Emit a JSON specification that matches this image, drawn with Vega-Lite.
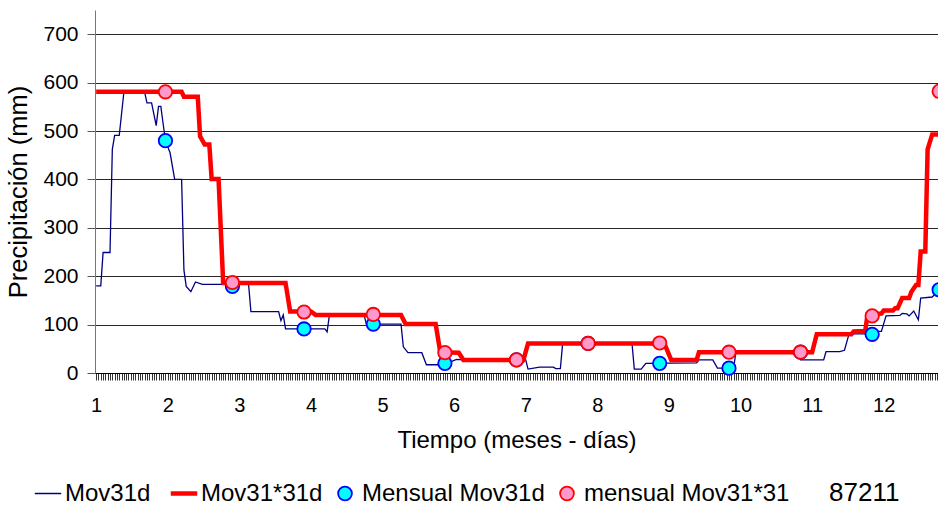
{
  "$schema": "https://vega.github.io/schema/vega-lite/v6.json",
  "width": 843,
  "height": 363,
  "autosize": {"type": "none"},
  "padding": {"left": 95, "top": 10, "right": 0, "bottom": 133},
  "background": "white",
  "config": {
    "font": "Liberation Sans",
    "view": {"stroke": null},
    "axis": {"labelFont": "Liberation Sans", "titleFont": "Liberation Sans", "labelColor": "#000", "titleColor": "#000", "titleFontWeight": "normal"}
  },
  "datasets": {
    "mov31d": [
      {"dia": 1, "mm": 180}, {"dia": 3, "mm": 180}, {"dia": 4, "mm": 249}, {"dia": 7, "mm": 249}, {"dia": 8, "mm": 462}, {"dia": 9, "mm": 491}, {"dia": 11, "mm": 491}, {"dia": 13, "mm": 580}, {"dia": 22, "mm": 580}, {"dia": 23, "mm": 558}, {"dia": 25, "mm": 558}, {"dia": 27, "mm": 511}, {"dia": 28, "mm": 551}, {"dia": 29, "mm": 551}, {"dia": 30, "mm": 515}, {"dia": 31, "mm": 480}, {"dia": 33, "mm": 455}, {"dia": 35, "mm": 400}, {"dia": 38, "mm": 400}, {"dia": 39, "mm": 213}, {"dia": 40, "mm": 179}, {"dia": 42, "mm": 168}, {"dia": 44, "mm": 188}, {"dia": 47, "mm": 183}, {"dia": 67, "mm": 183}, {"dia": 68, "mm": 127}, {"dia": 80, "mm": 127}, {"dia": 81, "mm": 108}, {"dia": 82, "mm": 120}, {"dia": 83, "mm": 91}, {"dia": 100, "mm": 91}, {"dia": 101, "mm": 85}, {"dia": 102, "mm": 120}, {"dia": 117, "mm": 120}, {"dia": 118, "mm": 101}, {"dia": 133, "mm": 101}, {"dia": 134, "mm": 54}, {"dia": 136, "mm": 42}, {"dia": 142, "mm": 42}, {"dia": 144, "mm": 17}, {"dia": 149, "mm": 17}, {"dia": 151, "mm": 20}, {"dia": 153, "mm": 20}, {"dia": 157, "mm": 28}, {"dia": 160, "mm": 27}, {"dia": 187, "mm": 27}, {"dia": 188, "mm": 8}, {"dia": 193, "mm": 12}, {"dia": 199, "mm": 12}, {"dia": 200, "mm": 9}, {"dia": 202, "mm": 9}, {"dia": 203, "mm": 62}, {"dia": 233, "mm": 62}, {"dia": 234, "mm": 8}, {"dia": 237, "mm": 8}, {"dia": 239, "mm": 20}, {"dia": 261, "mm": 21}, {"dia": 262, "mm": 27}, {"dia": 268, "mm": 27}, {"dia": 270, "mm": 10}, {"dia": 277, "mm": 10}, {"dia": 278, "mm": 43}, {"dia": 305, "mm": 43}, {"dia": 306, "mm": 27}, {"dia": 316, "mm": 27}, {"dia": 317, "mm": 44}, {"dia": 323, "mm": 44}, {"dia": 325, "mm": 47}, {"dia": 327, "mm": 81}, {"dia": 336, "mm": 81}, {"dia": 337, "mm": 86}, {"dia": 341, "mm": 86}, {"dia": 343, "mm": 118}, {"dia": 349, "mm": 119}, {"dia": 350, "mm": 123}, {"dia": 352, "mm": 122}, {"dia": 353, "mm": 118}, {"dia": 355, "mm": 128}, {"dia": 357, "mm": 110}, {"dia": 358, "mm": 155}, {"dia": 363, "mm": 157}, {"dia": 366, "mm": 172}
    ],
    "mov3131d": [
      {"dia": 1, "mm": 581}, {"dia": 38, "mm": 581}, {"dia": 39, "mm": 571}, {"dia": 45, "mm": 571}, {"dia": 46, "mm": 489}, {"dia": 48, "mm": 472}, {"dia": 50, "mm": 472}, {"dia": 51, "mm": 401}, {"dia": 54, "mm": 401}, {"dia": 56, "mm": 186}, {"dia": 83, "mm": 186}, {"dia": 85, "mm": 127}, {"dia": 94, "mm": 127}, {"dia": 96, "mm": 120}, {"dia": 133, "mm": 120}, {"dia": 135, "mm": 101}, {"dia": 148, "mm": 101}, {"dia": 150, "mm": 43}, {"dia": 158, "mm": 42}, {"dia": 160, "mm": 27}, {"dia": 186, "mm": 27}, {"dia": 188, "mm": 61}, {"dia": 247, "mm": 61}, {"dia": 250, "mm": 27}, {"dia": 261, "mm": 27}, {"dia": 262, "mm": 43}, {"dia": 311, "mm": 43}, {"dia": 313, "mm": 80}, {"dia": 328, "mm": 80}, {"dia": 329, "mm": 86}, {"dia": 334, "mm": 87}, {"dia": 335, "mm": 121}, {"dia": 341, "mm": 123}, {"dia": 342, "mm": 129}, {"dia": 346, "mm": 129}, {"dia": 347, "mm": 134}, {"dia": 348, "mm": 134}, {"dia": 350, "mm": 155}, {"dia": 353, "mm": 155}, {"dia": 354, "mm": 168}, {"dia": 356, "mm": 182}, {"dia": 357, "mm": 182}, {"dia": 358, "mm": 251}, {"dia": 360, "mm": 251}, {"dia": 361, "mm": 462}, {"dia": 363, "mm": 493}, {"dia": 366, "mm": 493}
    ],
    "mensual": [
      {"dia": 31, "mov31d": 480, "mov3131": 581},
      {"dia": 60, "mov31d": 179, "mov3131": 187},
      {"dia": 91, "mov31d": 91, "mov3131": 126},
      {"dia": 121, "mov31d": 101, "mov3131": 121},
      {"dia": 152, "mov31d": 20, "mov3131": 42},
      {"dia": 183, "mov31d": 27, "mov3131": 27},
      {"dia": 214, "mov31d": 61, "mov3131": 61},
      {"dia": 245, "mov31d": 20, "mov3131": 62},
      {"dia": 275, "mov31d": 10, "mov3131": 43},
      {"dia": 306, "mov31d": 43, "mov3131": 43},
      {"dia": 337, "mov31d": 80, "mov3131": 118},
      {"dia": 366, "mov31d": 172, "mov3131": 582}
    ]
  },
  "layer": [
    {
      "data": {"name": "mov31d"},
      "mark": {"type": "line", "strokeWidth": 1.3, "clip": true},
      "encoding": {
        "x": {
          "field": "dia", "type": "quantitative",
          "scale": {"domain": [0.5, 365.5], "nice": false, "zero": false},
          "axis": {
            "title": "Tiempo (meses - días)",
            "tickCount": 365,
            "labelExpr": "(datum.value - 1) % 31 === 0 ? '' + ((datum.value - 1) / 31 + 1) : ''",
            "labelOverlap": false, "labelFlush": false, "labelBound": false,
            "grid": false, "tickSize": 7, "tickColor": "#333", "domainColor": "#000",
            "labelFontSize": 20, "labelPadding": 15, "labelAngle": 0,
            "titleFontSize": 24, "titlePadding": 13
          }
        },
        "y": {
          "field": "mm", "type": "quantitative",
          "scale": {"domain": [0, 750], "nice": false},
          "axis": {
            "title": "Precipitación (mm)",
            "values": [0, 100, 200, 300, 400, 500, 600, 700],
            "grid": true, "gridColor": "#000", "gridWidth": 1, "gridOpacity": 0.85,
            "tickSize": 8, "tickColor": "#555", "domainColor": "#777",
            "labelFontSize": 21, "labelPadding": 9,
            "titleFontSize": 25.5, "titlePadding": 11
          }
        },
        "color": {
          "datum": "Mov31d", "type": "nominal",
          "scale": {
            "domain": ["Mov31d", "Mov31*31d", "Mensual Mov31d", "mensual Mov31*31", "87211"],
            "range": ["#000080", "#FF0000", "#0000FF", "#FF0000", "#FFFFFF"]
          },
          "legend": {
            "orient": "none", "legendX": -59, "legendY": 471,
            "direction": "horizontal", "columns": 5, "title": null,
            "labelFontSize": 24, "labelFont": "Liberation Sans", "labelColor": "#000", "labelLimit": 0,
            "symbolSize": 700, "labelOffset": 5, "columnPadding": 10,
            "symbolStrokeWidth": 1.5,
            "encode": {
              "symbols": {
                "update": {
                  "shape": {"signal": "datum.value === 'Mov31d' || datum.value === 'Mov31*31d' ? 'stroke' : 'circle'"},
                  "strokeWidth": {"signal": "datum.value === 'Mov31d' ? 1.5 : datum.value === 'Mov31*31d' ? 4.5 : 1.8"},
                  "stroke": {"signal": "datum.value === 'Mov31d' ? '#000080' : datum.value === 'Mov31*31d' ? '#FF0000' : datum.value === 'Mensual Mov31d' ? '#0000FF' : '#FF0000'"},
                  "strokeOpacity": {"value": 1},
                  "fill": {"signal": "datum.value === 'Mensual Mov31d' ? '#00FFFF' : datum.value === 'mensual Mov31*31' ? '#FF99CC' : 'transparent'"},
                  "fillOpacity": {"value": 1},
                  "size": {"signal": "datum.value === 'Mov31d' || datum.value === 'Mov31*31d' ? 700 : 190"},
                  "opacity": {"signal": "datum.value === '87211' ? 0 : 1"}
                }
              },
              "labels": {
                "update": {
                  "fontSize": {"signal": "datum.value === '87211' ? 26 : 24"}
                }
              }
            }
          }
        }
      }
    },
    {
      "data": {"name": "mov3131d"},
      "mark": {"type": "line", "strokeWidth": 4.5, "clip": true},
      "encoding": {
        "x": {"field": "dia", "type": "quantitative"},
        "y": {"field": "mm", "type": "quantitative"},
        "color": {"datum": "Mov31*31d", "type": "nominal"}
      }
    },
    {
      "data": {"name": "mensual"},
      "mark": {"type": "point", "shape": "circle", "filled": false, "size": 180, "strokeWidth": 1.8, "opacity": 1, "fillOpacity": 1},
      "encoding": {
        "x": {"field": "dia", "type": "quantitative"},
        "y": {"field": "mov31d", "type": "quantitative"},
        "color": {"datum": "Mensual Mov31d", "type": "nominal"},
        "fill": {"value": "#00FFFF"}
      }
    },
    {
      "data": {"name": "mensual"},
      "mark": {"type": "point", "shape": "circle", "filled": false, "size": 180, "strokeWidth": 1.8, "opacity": 1, "fillOpacity": 1},
      "encoding": {
        "x": {"field": "dia", "type": "quantitative"},
        "y": {"field": "mov3131", "type": "quantitative"},
        "color": {"datum": "mensual Mov31*31", "type": "nominal"},
        "fill": {"value": "#FF99CC"}
      }
    }
  ]
}
